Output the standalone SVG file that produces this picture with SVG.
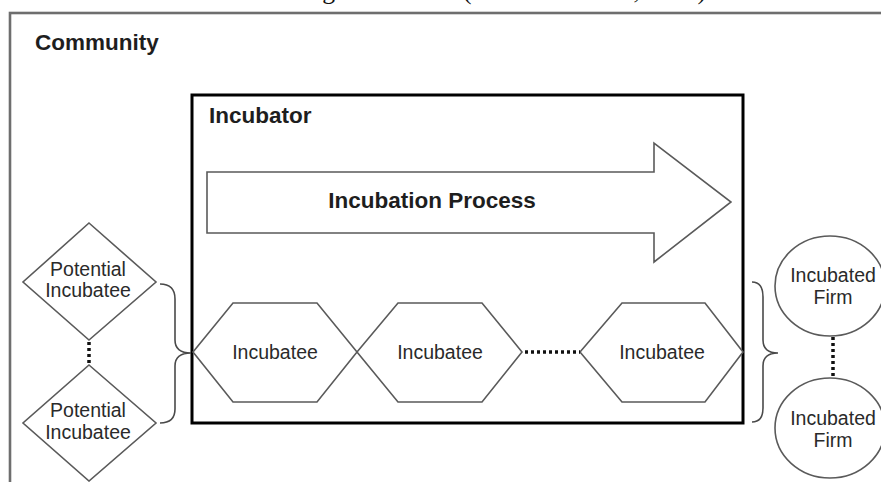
<svg xmlns="http://www.w3.org/2000/svg" width="881" height="482" viewBox="0 0 881 482">
  <style>
    .shape { fill: #ffffff; stroke: #5a5a5a; stroke-width: 1.6; }
    .lbl { font-family: "Liberation Sans", Arial, sans-serif; font-size: 19.5px; fill: #2a2a2a; text-anchor: middle; }
    .title { font-family: "Liberation Sans", Arial, sans-serif; font-size: 22.5px; font-weight: bold; fill: #1e1e1e; }
    .brace { fill: none; stroke: #4a4a4a; stroke-width: 1.6; }
    .dots { fill: none; stroke: #111; stroke-width: 3.5; stroke-dasharray: 3 3; }
    .caption { font-family: "Liberation Serif", "Times New Roman", serif; font-size: 25.6px; fill: #111; }
  </style>
  <rect width="881" height="482" fill="#ffffff"/>

  <text class="caption" x="706" y="-1" text-anchor="end">between individuals and organizations.” (Hackett &amp; Dilts, 2004)</text>

  <g id="community">
    <rect x="10" y="13" width="885" height="490" fill="none" stroke="#6e6e6e" stroke-width="2.6"/>
    <text class="title" x="35" y="50">Community</text>
  </g>

  <g id="incubator">
    <rect x="192" y="95" width="551" height="328" fill="none" stroke="#000" stroke-width="3"/>
    <text class="title" x="209" y="123">Incubator</text>
  </g>

  <g id="incubation-process">
    <polygon class="shape" points="207,172 654,172 654,143 731,202 654,262 654,233 207,233"/>
    <text class="title" x="432" y="208" text-anchor="middle">Incubation Process</text>
  </g>

  <g id="potential-incubatee-1">
    <polygon class="shape" points="89,223 156,282 89,340 23,282"/>
    <text class="lbl" x="88" y="276">Potential</text>
    <text class="lbl" x="88" y="297">Incubatee</text>
  </g>

  <g id="potential-incubatee-2">
    <polygon class="shape" points="89,365 156,423 89,481 23,423"/>
    <text class="lbl" x="88" y="417">Potential</text>
    <text class="lbl" x="88" y="439">Incubatee</text>
  </g>

  <g id="incubatee-1">
    <polygon class="shape" points="193,352 233,303 317,303 357,352 317,402 233,402"/>
    <text class="lbl" x="275" y="359">Incubatee</text>
  </g>

  <g id="incubatee-2">
    <polygon class="shape" points="357,352 398,303 482,303 522,352 482,402 398,402"/>
    <text class="lbl" x="440" y="359">Incubatee</text>
  </g>

  <g id="incubatee-3">
    <polygon class="shape" points="580,352 622,303 705,303 743,352 705,402 622,402"/>
    <text class="lbl" x="662" y="359">Incubatee</text>
  </g>

  <g id="incubated-firm-1">
    <ellipse class="shape" cx="830" cy="286" rx="55" ry="50"/>
    <text class="lbl" x="833" y="282">Incubated</text>
    <text class="lbl" x="833" y="304">Firm</text>
  </g>

  <g id="incubated-firm-2">
    <ellipse class="shape" cx="830" cy="428" rx="55" ry="50"/>
    <text class="lbl" x="833" y="425">Incubated</text>
    <text class="lbl" x="833" y="447">Firm</text>
  </g>

  <g id="connectors">
    <path class="brace" d="M160,284 Q175,284 175,299 L175,340 Q175,353 191,353 Q175,353 175,366 L175,409 Q175,423 160,423"/>
    <path class="brace" d="M752,282 Q763,282 763,297 L763,340 Q763,353 778,353 Q763,353 763,366 L763,408 Q763,422 752,422"/>
    <line class="dots" x1="89" y1="342" x2="89" y2="364"/>
    <line class="dots" x1="525" y1="352" x2="580" y2="352"/>
    <line class="dots" x1="833" y1="337" x2="833" y2="376"/>
  </g>
</svg>
